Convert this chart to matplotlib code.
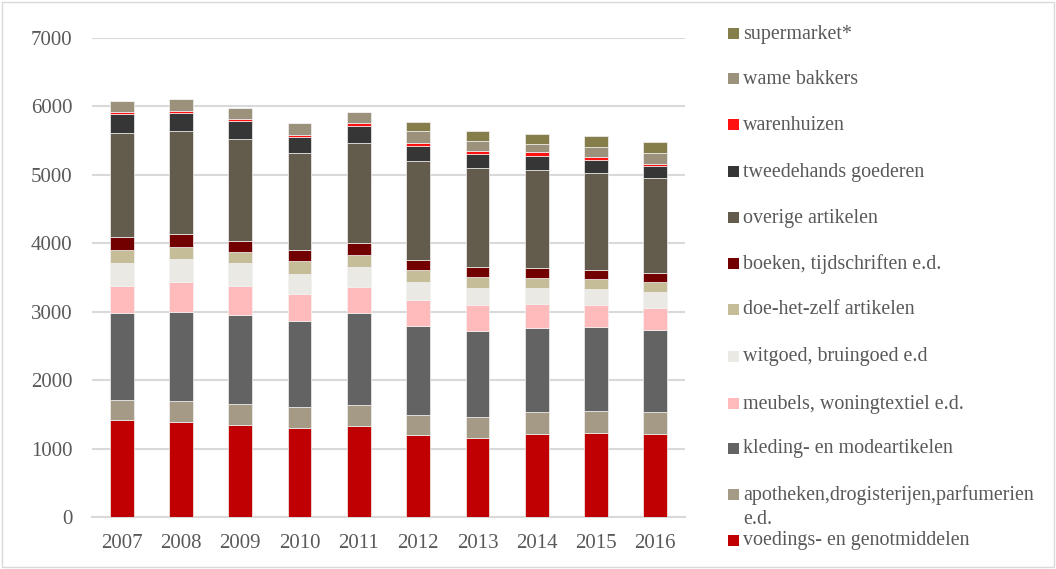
import matplotlib
matplotlib.use("Agg")
import matplotlib.pyplot as plt
from matplotlib.patches import Rectangle
import numpy as np

years = ["2007", "2008", "2009", "2010", "2011", "2012", "2013", "2014", "2015", "2016"]

series_names = [
    "voedings- en genotmiddelen",
    "apotheken,drogisterijen,parfumerien\ne.d.",
    "kleding- en modeartikelen",
    "meubels, woningtextiel e.d.",
    "witgoed, bruingoed e.d",
    "doe-het-zelf artikelen",
    "boeken, tijdschriften e.d.",
    "overige artikelen",
    "tweedehands goederen",
    "warenhuizen",
    "wame bakkers",
    "supermarket*",
]

voedings = [1418, 1395, 1345, 1301, 1330, 1199, 1155, 1213, 1228, 1209]
apotheken = [298, 297, 303, 303, 307, 298, 303, 318, 328, 326]
kleding = [1258, 1305, 1305, 1261, 1337, 1291, 1267, 1232, 1222, 1195]
meubels = [403, 430, 424, 395, 389, 380, 374, 351, 317, 321]
witgoed = [336, 343, 328, 296, 290, 268, 249, 230, 234, 234]
doehetzelf = [186, 183, 169, 178, 177, 175, 156, 146, 151, 146]
boeken = [186, 176, 161, 161, 167, 152, 151, 150, 131, 136]
overige = [1525, 1510, 1487, 1418, 1471, 1437, 1439, 1433, 1414, 1380]
tweedehands = [273, 267, 259, 243, 248, 224, 213, 205, 194, 180]
warenhuizen = [29, 25, 29, 29, 35, 39, 39, 54, 44, 34]
wame_bakkers = [161, 171, 161, 171, 170, 176, 147, 121, 138, 152]
supermarket = [0, 0, 0, 0, 0, 131, 146, 142, 160, 165]

series_values = [voedings, apotheken, kleding, meubels, witgoed, doehetzelf,
                 boeken, overige, tweedehands, warenhuizen, wame_bakkers, supermarket]

colors = ["#C00000", "#A59A86", "#636363", "#FFBBBB", "#EBE9E4", "#C4BD97",
          "#720000", "#635B4B", "#363636", "#FF1111", "#9C917A", "#857D4A"]

yticks = [0, 1000, 2000, 3000, 4000, 5000, 6000, 7000]

plt.rcParams['font.family'] = ['Liberation Serif', 'DejaVu Serif']
text_color = "#595959"

fig = plt.figure(figsize=(10.56, 5.69), dpi=100)
W, H = 1056, 569
ax = fig.add_axes([92 / W, 1 - 517 / H, (685 - 92) / W, (517 - 38) / H])

x = np.arange(len(years))
bottom = np.zeros(len(years))
for vals, col in zip(series_values, colors):
    v = np.array(vals, dtype=float)
    ax.bar(x, v, width=0.40, bottom=bottom, color=col, edgecolor="#F2F2F2",
           linewidth=0.5, zorder=3)
    bottom += v

ax.set_xlim(-0.5, len(years) - 0.5)
ax.set_ylim(0, 7000)
ax.set_yticks(yticks)
ax.set_yticklabels([str(t) for t in yticks])
ax.set_xticks(x)
ax.set_xticklabels(years)
ax.yaxis.grid(True, color="#D9D9D9", linewidth=1.5, zorder=0)
ax.set_axisbelow(True)
for s in ["left", "right", "top"]:
    ax.spines[s].set_visible(False)
ax.spines["bottom"].set_color("#D9D9D9")
ax.spines["bottom"].set_linewidth(1.5)
ax.tick_params(axis="both", length=0, labelcolor=text_color, labelsize=15)
ax.tick_params(axis="y", pad=14)
ax.tick_params(axis="x", pad=12)

# manual legend (reverse order, top to bottom)
legend_y = {
    "supermarket*": 33, "wame bakkers": 78, "warenhuizen": 124,
    "tweedehands goederen": 171, "overige artikelen": 217,
    "boeken, tijdschriften e.d.": 263, "doe-het-zelf artikelen": 309,
    "witgoed, bruingoed e.d": 356, "meubels, woningtextiel e.d.": 403,
    "kleding- en modeartikelen": 448,
    "apotheken,drogisterijen,parfumerien\ne.d.": 494,
    "voedings- en genotmiddelen": 540,
}
for name, col in zip(series_names, colors):
    yc = legend_y[name]
    fig.patches.append(Rectangle((728 / W, 1 - (yc + 5.5) / H), 11 / W, 11 / H,
                                 transform=fig.transFigure, facecolor=col,
                                 edgecolor="none"))
    lines = name.split("\n")
    for i, ln in enumerate(lines):
        fig.text(743 / W, 1 - (yc + 1 + i * 24) / H, ln, ha="left", va="center",
                 fontsize=14.4, color=text_color)

# outer border
fig.patches.append(Rectangle((2 / W, 2 / H), 1 - 4 / W, 1 - 4 / H,
                             transform=fig.transFigure, facecolor="none",
                             edgecolor="#D9D9D9", linewidth=1))

fig.savefig("out.png", dpi=100)
